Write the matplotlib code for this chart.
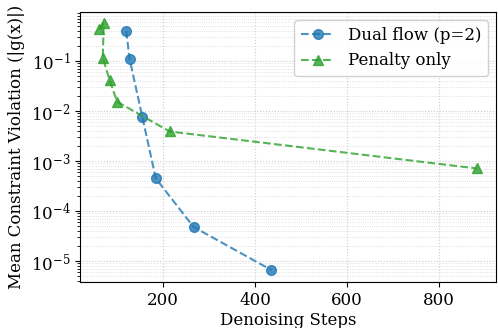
import matplotlib
matplotlib.use("Agg")
import matplotlib.pyplot as plt

# values (steps, mean |g(x)|)
dual_steps = [121, 128, 156, 185, 267, 436]
dual_viol = [0.40, 0.112, 0.0075, 4.5e-4, 4.8e-5, 6.6e-6]
pen_steps = [62, 72, 70, 85, 101, 215, 882]
pen_viol = [0.43, 0.57, 0.117, 0.041, 0.0154, 0.0039, 7.1e-4]

plt.rcParams["font.family"] = "DejaVu Serif"
plt.rcParams["font.size"] = 12

fig, ax = plt.subplots(figsize=(4.98, 3.28), dpi=100)
ax.plot(dual_steps, dual_viol, "o--", color="#1f77b4", alpha=0.8, lw=1.5,
        ms=7, label="Dual flow (p=2)")
ax.plot(pen_steps, pen_viol, "^--", color="#2ca02c", alpha=0.8, lw=1.5,
        ms=7, label="Penalty only")
ax.set_yscale("log")
ax.set_ylim(3.8e-6, 0.95)
ax.set_xticks([200, 400, 600, 800])
ax.set_xlabel("Denoising Steps", labelpad=2)
ax.set_ylabel("Mean Constraint Violation (|g(x)|)")
ax.grid(True, which="major", ls=":", color="0.8", lw=0.8)
ax.grid(True, which="minor", axis="y", ls=":", color="0.85", lw=0.6)
ax.legend(loc="upper right", framealpha=0.9)

fig.subplots_adjust(left=0.161, right=0.996, top=0.963, bottom=0.14)
fig.savefig("out.png", dpi=100)
